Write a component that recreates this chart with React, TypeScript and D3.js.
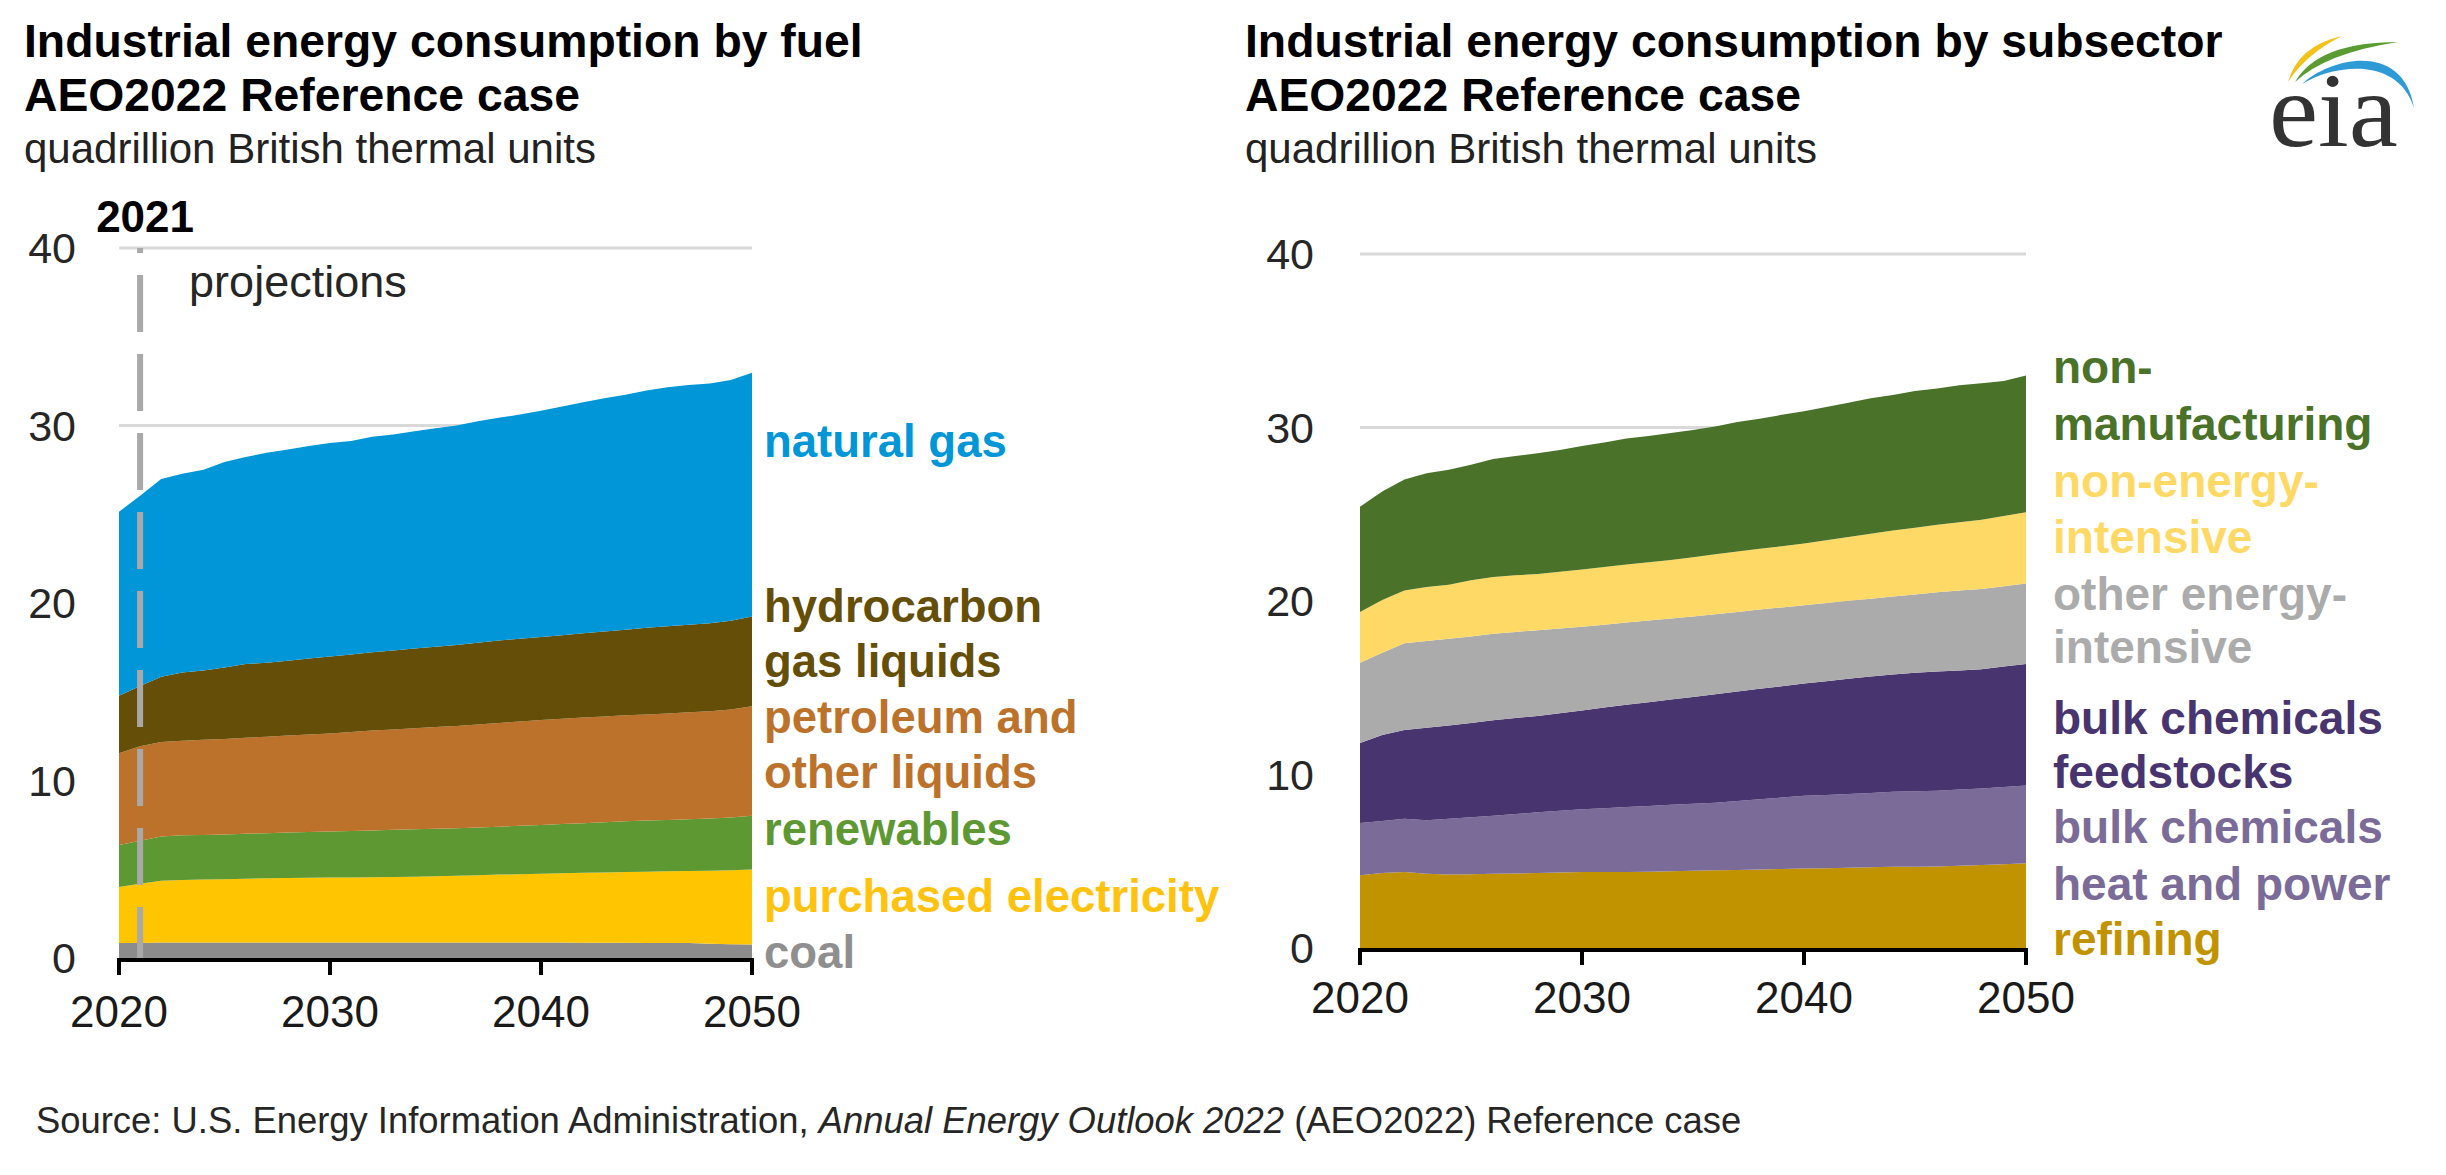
import React from 'react';
import * as d3 from 'd3';

// ---------------- DATA ----------------
const years = [2020, 2021, 2022, 2023, 2024, 2025, 2026, 2027, 2028, 2029, 2030, 2031, 2032, 2033, 2034, 2035, 2036, 2037, 2038, 2039, 2040, 2041, 2042, 2043, 2044, 2045, 2046, 2047, 2048, 2049, 2050];

// Fuel panel (quadrillion Btu), bottom to top
const coal = [0.85, 0.85, 0.88, 0.88, 0.88, 0.88, 0.88, 0.88, 0.88, 0.88, 0.88, 0.88, 0.88, 0.88, 0.88, 0.88, 0.88, 0.87, 0.87, 0.87, 0.87, 0.87, 0.86, 0.86, 0.86, 0.85, 0.85, 0.84, 0.8, 0.78, 0.76];
const purchasedElectricity = [3.15, 3.33, 3.47, 3.51, 3.54, 3.56, 3.58, 3.61, 3.63, 3.64, 3.66, 3.66, 3.67, 3.68, 3.7, 3.73, 3.75, 3.79, 3.83, 3.85, 3.88, 3.9, 3.94, 3.96, 3.98, 4.01, 4.04, 4.06, 4.11, 4.16, 4.23];
const renewables = [2.36, 2.42, 2.49, 2.52, 2.51, 2.52, 2.54, 2.54, 2.56, 2.58, 2.58, 2.61, 2.64, 2.66, 2.68, 2.67, 2.68, 2.69, 2.7, 2.73, 2.75, 2.78, 2.79, 2.83, 2.87, 2.88, 2.89, 2.92, 2.95, 2.98, 3.03];
const petroleumOtherLiquids = [5.17, 5.33, 5.33, 5.33, 5.36, 5.38, 5.41, 5.44, 5.46, 5.49, 5.53, 5.58, 5.62, 5.66, 5.69, 5.73, 5.76, 5.8, 5.84, 5.87, 5.91, 5.93, 5.96, 5.96, 5.96, 5.98, 6.0, 6.02, 6.04, 6.08, 6.17];
const hydrocarbonGasLiquids = [3.25, 3.4, 3.68, 3.84, 3.91, 4.03, 4.15, 4.16, 4.22, 4.28, 4.34, 4.37, 4.41, 4.45, 4.49, 4.52, 4.56, 4.61, 4.65, 4.66, 4.67, 4.71, 4.74, 4.79, 4.83, 4.88, 4.91, 4.94, 4.96, 5.0, 5.05];
const naturalGas = [10.36, 10.71, 11.14, 11.2, 11.31, 11.57, 11.67, 11.83, 11.9, 11.97, 12.02, 12.03, 12.14, 12.17, 12.23, 12.31, 12.37, 12.48, 12.54, 12.64, 12.75, 12.88, 13.02, 13.14, 13.23, 13.37, 13.47, 13.5, 13.51, 13.56, 13.73];

// Subsector panel (quadrillion Btu), bottom to top
const refining = [4.2, 4.33, 4.38, 4.28, 4.23, 4.25, 4.28, 4.3, 4.33, 4.35, 4.38, 4.38, 4.38, 4.4, 4.43, 4.45, 4.48, 4.5, 4.53, 4.55, 4.58, 4.6, 4.63, 4.65, 4.68, 4.69, 4.7, 4.74, 4.78, 4.83, 4.88];
const bulkChemHeatPower = [3.0, 2.99, 3.07, 3.09, 3.22, 3.28, 3.34, 3.42, 3.49, 3.56, 3.62, 3.68, 3.74, 3.78, 3.82, 3.86, 3.89, 3.97, 4.04, 4.12, 4.19, 4.22, 4.24, 4.28, 4.32, 4.34, 4.37, 4.39, 4.42, 4.45, 4.49];
const bulkChemFeedstocks = [4.62, 4.95, 5.12, 5.32, 5.37, 5.44, 5.5, 5.53, 5.55, 5.62, 5.69, 5.8, 5.9, 5.99, 6.07, 6.16, 6.25, 6.31, 6.37, 6.42, 6.47, 6.56, 6.65, 6.72, 6.77, 6.83, 6.87, 6.87, 6.87, 6.94, 7.0];
const otherEnergyIntensive = [4.62, 4.75, 5.0, 5.0, 5.0, 4.99, 4.99, 4.97, 4.95, 4.88, 4.82, 4.77, 4.74, 4.7, 4.67, 4.64, 4.62, 4.59, 4.57, 4.54, 4.52, 4.5, 4.49, 4.48, 4.49, 4.52, 4.57, 4.6, 4.62, 4.63, 4.64];
const nonEnergyIntensive = [2.92, 3.04, 3.04, 3.12, 3.12, 3.24, 3.28, 3.26, 3.24, 3.27, 3.3, 3.33, 3.35, 3.36, 3.37, 3.41, 3.45, 3.48, 3.5, 3.53, 3.55, 3.62, 3.68, 3.74, 3.8, 3.84, 3.88, 3.94, 4.0, 4.05, 4.1];
const nonManufacturing = [6.07, 6.25, 6.4, 6.55, 6.62, 6.66, 6.79, 6.88, 6.95, 7.03, 7.12, 7.17, 7.25, 7.28, 7.32, 7.34, 7.37, 7.46, 7.49, 7.57, 7.62, 7.68, 7.74, 7.81, 7.82, 7.88, 7.86, 7.89, 7.86, 7.78, 7.89];

const yTicks = [0, 10, 20, 30, 40];
const xTicks = [2020, 2030, 2040, 2050];
const projectionYear = 2021;

const fuelTitle = ['Industrial energy consumption by fuel', 'AEO2022 Reference case'];
const subsectorTitle = ['Industrial energy consumption by subsector', 'AEO2022 Reference case'];
const unitsLabel = 'quadrillion British thermal units';

// ---------------- STYLE / LAYOUT ----------------
const FONT = '"Liberation Sans", Arial, Helvetica, sans-serif';

type Series = { key: string; values: number[]; color: string; labelColor: string; lines: string[]; baselines: number[] };

const fuelSeries: Series[] = [
  { key: 'coal', values: coal, color: '#8c8c8c', labelColor: '#8f8f8f', lines: ['coal'], baselines: [968] },
  { key: 'elec', values: purchasedElectricity, color: '#ffc600', labelColor: '#ffc20e', lines: ['purchased electricity'], baselines: [912] },
  { key: 'ren', values: renewables, color: '#5e9833', labelColor: '#5e9833', lines: ['renewables'], baselines: [845] },
  { key: 'pet', values: petroleumOtherLiquids, color: '#bd722b', labelColor: '#bd722b', lines: ['petroleum and', 'other liquids'], baselines: [733, 788] },
  { key: 'hgl', values: hydrocarbonGasLiquids, color: '#654e08', labelColor: '#654e08', lines: ['hydrocarbon', 'gas liquids'], baselines: [622, 677] },
  { key: 'ng', values: naturalGas, color: '#0096d7', labelColor: '#0096d7', lines: ['natural gas'], baselines: [457] },
];

const subsectorSeries: Series[] = [
  { key: 'ref', values: refining, color: '#c29300', labelColor: '#c29300', lines: ['refining'], baselines: [955] },
  { key: 'hp', values: bulkChemHeatPower, color: '#7b6b98', labelColor: '#7b6b98', lines: ['bulk chemicals', 'heat and power'], baselines: [843, 900] },
  { key: 'fs', values: bulkChemFeedstocks, color: '#48346e', labelColor: '#48346e', lines: ['bulk chemicals', 'feedstocks'], baselines: [734, 788] },
  { key: 'oei', values: otherEnergyIntensive, color: '#ababab', labelColor: '#ababab', lines: ['other energy-', 'intensive'], baselines: [610, 663] },
  { key: 'nei', values: nonEnergyIntensive, color: '#ffd966', labelColor: '#ffd966', lines: ['non-energy-', 'intensive'], baselines: [497, 553] },
  { key: 'nm', values: nonManufacturing, color: '#4a7229', labelColor: '#4a7229', lines: ['non-', 'manufacturing'], baselines: [383, 440] },
];

type PanelProps = {
  titleX: number;
  title: string[];
  plotLeft: number;
  plotRight: number;
  zeroY: number;
  fortyY: number;
  yLabelRight: number;
  xLabelBaseline: number;
  labelX: number;
  labelSize: number;
  series: Series[];
  projection?: boolean;
};

function Panel(p: PanelProps) {
  const x = d3.scaleLinear().domain([years[0], years[years.length - 1]]).range([p.plotLeft, p.plotRight]);
  const y = d3.scaleLinear().domain([0, 40]).range([p.zeroY, p.fortyY]);
  const rows = years.map((yr, i) => {
    const r: any = { year: yr };
    p.series.forEach((s) => (r[s.key] = s.values[i]));
    return r;
  });
  const stacked = d3.stack<any>().keys(p.series.map((s) => s.key))(rows);
  const area = d3
    .area<any>()
    .x((d) => x(d.data.year))
    .y0((d) => y(d[0]))
    .y1((d) => y(d[1]));

  return (
    <g>
      {/* titles */}
      <text x={p.titleX} y={57} fontFamily={FONT} fontWeight="bold" fontSize={46.3} fill="#000">{p.title[0]}</text>
      <text x={p.titleX} y={111} fontFamily={FONT} fontWeight="bold" fontSize={46.3} fill="#000">{p.title[1]}</text>
      <text x={p.titleX} y={163} fontFamily={FONT} fontSize={42} fill="#222">{unitsLabel}</text>

      {/* gridlines */}
      {yTicks.filter((t) => t > 0).map((t) => (
        <line key={t} x1={p.plotLeft} x2={p.plotRight} y1={y(t)} y2={y(t)} stroke="#d9d9d9" strokeWidth={3} />
      ))}
      {/* y tick labels */}
      {yTicks.map((t) => (
        <text key={t} x={p.yLabelRight} y={y(t) + 15} textAnchor="end" fontFamily={FONT} fontSize={43} fill="#262626">{t}</text>
      ))}

      {/* areas */}
      {stacked.map((layer, i) => (
        <path key={layer.key} d={area(layer) || ''} fill={p.series[i].color} />
      ))}

      {/* projection divider */}
      {p.projection && (
        <g>
          <line x1={x(projectionYear)} x2={x(projectionYear)} y1={y(40)} y2={y(0)} stroke="#a9a9a9" strokeWidth={6} strokeDasharray="57 22" strokeDashoffset={52} />
          <text x={x(projectionYear) + 5} y={232} textAnchor="middle" fontFamily={FONT} fontWeight="bold" fontSize={44} fill="#000">{projectionYear}</text>
          <text x={x(projectionYear) + 49} y={297} fontFamily={FONT} fontSize={45} fill="#262626">projections</text>
        </g>
      )}

      {/* x axis */}
      <line x1={p.plotLeft - 2} x2={p.plotRight + 2} y1={y(0) + 2} y2={y(0) + 2} stroke="#000" strokeWidth={4} />
      {xTicks.map((t) => (
        <g key={t}>
          <line x1={x(t)} x2={x(t)} y1={y(0)} y2={y(0) + 17} stroke="#000" strokeWidth={4} />
          <text x={x(t)} y={p.xLabelBaseline} textAnchor="middle" fontFamily={FONT} fontSize={44} fill="#1a1a1a">{t}</text>
        </g>
      ))}

      {/* series labels */}
      {p.series.map((s) =>
        s.lines.map((ln, j) => (
          <text key={s.key + j} x={p.labelX} y={s.baselines[j]} fontFamily={FONT} fontWeight="bold" fontSize={p.labelSize} fill={s.labelColor}>{ln}</text>
        ))
      )}
    </g>
  );
}

function EiaLogo() {
  return (
    <g>
      <path d="M2288,82 Q2298,46 2342,36 Q2306,54 2288,82 Z" fill="#f2c21b" />
      <path d="M2295,82 Q2318,42 2398,42 Q2326,53 2295,82 Z" fill="#5a9b32" />
      <path d="M2302,84 C2332,56 2404,42 2414,108 C2398,56 2334,64 2302,84 Z" fill="#2f9bd6" />
      <text x={2269} y={146} fontFamily='"Liberation Serif", "DejaVu Serif", serif' fontSize={106} fill="#333" textLength={129} lengthAdjust="spacingAndGlyphs">eia</text>
    </g>
  );
}

export default function App() {
  return (
    <svg width={2446} height={1175} viewBox="0 0 2446 1175" style={{ position: 'absolute', left: 0, top: 0, background: '#fff' }}>
      <rect x={0} y={0} width={2446} height={1175} fill="#fff" />
      <Panel
        titleX={24}
        title={fuelTitle}
        plotLeft={119}
        plotRight={752}
        zeroY={958}
        fortyY={248}
        yLabelRight={76}
        xLabelBaseline={1027}
        labelX={764}
        labelSize={45.5}
        series={fuelSeries}
        projection
      />
      <Panel
        titleX={1245}
        title={subsectorTitle}
        plotLeft={1360}
        plotRight={2026}
        zeroY={948}
        fortyY={254}
        yLabelRight={1314}
        xLabelBaseline={1013}
        labelX={2053}
        labelSize={46}
        series={subsectorSeries}
      />
      <EiaLogo />
      <text x={36} y={1133} fontFamily={FONT} fontSize={36.4} fill="#262626">
        Source: U.S. Energy Information Administration, <tspan fontStyle="italic">Annual Energy Outlook 2022</tspan> (AEO2022) Reference case
      </text>
    </svg>
  );
}
